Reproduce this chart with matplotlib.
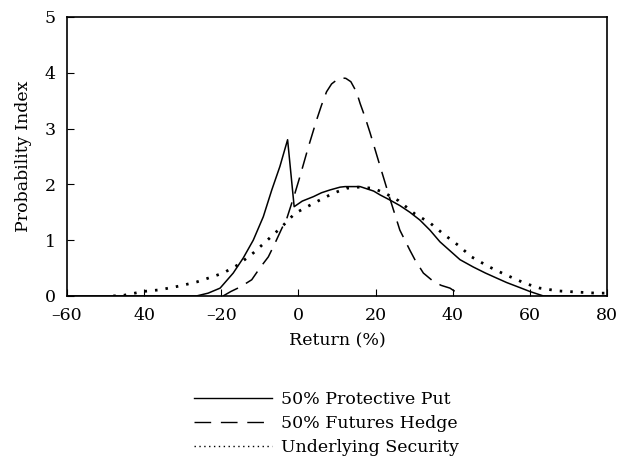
import numpy as np
import matplotlib
matplotlib.use('Agg')
import matplotlib.pyplot as plt
from matplotlib.lines import Line2D

plt.rcParams['font.family'] = ['DejaVu Serif']

# 50% protective put (solid)
put_x = [-60, -26.4, -23.4, -20.3, -16.9, -14.3, -11.7, -9.1, -6.9, -4.8, -2.8,
         -1.1, 1.0, 3.9, 6.0, 8.2, 10.8, 12.1, 16.0, 19.5, 21.2, 23.7, 26.3, 28.9, 31.5, 34.1,
         36.7, 39.3, 41.9, 45.3, 48.5, 51.4, 54.0, 57.4, 60.0, 63.5, 80]
put_y = [0, 0, 0.05, 0.14, 0.41, 0.68, 1.00, 1.42, 1.90, 2.32, 2.80,
         1.60, 1.70, 1.78, 1.85, 1.90, 1.95, 1.96, 1.96, 1.88, 1.81, 1.72, 1.62, 1.50, 1.36, 1.18,
         0.97, 0.81, 0.65, 0.52, 0.41, 0.32, 0.24, 0.15, 0.08, 0, 0]

# 50% futures hedge (dashed)
fut_x = [-19.5, -17.5, -15.1, -12.1, -10.0, -7.8, -6.1, -4.3, -3.0, -0.9, 0.4, 2.5, 4.7,
         6.0, 7.3, 8.6, 9.9, 11.0, 12.3, 13.6, 15.1, 16.0, 17.3, 18.6, 21.2, 23.7,
         26.3, 28.9, 30.2, 32.4, 35.0, 37.0, 39.3, 41.9]
fut_y = [0, 0.08, 0.16, 0.29, 0.50, 0.70, 0.94, 1.21, 1.39, 1.84, 2.14, 2.65, 3.15,
         3.42, 3.66, 3.80, 3.87, 3.91, 3.90, 3.84, 3.65, 3.45, 3.20, 2.92, 2.32, 1.75,
         1.18, 0.82, 0.65, 0.41, 0.26, 0.19, 0.14, 0.02]

# underlying security (dotted)
und_x = [-48, -45.4, -40.2, -35.9, -30.7, -26.4, -24.2, -19.5, -15.6, -11.7, -8.2, -4.3, -0.9,
         3.9, 9.0, 12.5, 15.5, 19.4, 22.5, 25.9, 30.2, 34.1, 37.6, 41.4, 44.9,
         49.2, 52.8, 56.0, 59.0, 62.6, 67.4, 72.1, 77.3, 80]
und_y = [0, 0.01, 0.08, 0.11, 0.18, 0.25, 0.30, 0.41, 0.56, 0.77, 0.99, 1.24, 1.48,
         1.66, 1.84, 1.93, 1.95, 1.93, 1.84, 1.71, 1.47, 1.31, 1.11, 0.91, 0.70,
         0.53, 0.41, 0.31, 0.22, 0.14, 0.09, 0.07, 0.05, 0.05]

xticks = [-60, -40, -20, 0, 20, 40, 60, 80]
xtick_labels = ['\u201360', '40', '\u201320', '0', '20', '40', '60', '80']
yticks = [0, 1, 2, 3, 4, 5]

fig = plt.figure(figsize=(6.2, 4.72), dpi=100)
ax = fig.add_axes([0.108, 0.373, 0.871, 0.591])

ax.plot(put_x, put_y, color='black', lw=1.1, ls='-')
ax.plot(fut_x, fut_y, color='black', lw=1.1, ls=(0, (11, 6)))
ax.plot(und_x, und_y, color='black', lw=2.0, ls=(0, (0.9, 2.9)))

ax.set_xlim(-60, 80)
ax.set_ylim(0, 5)
ax.set_xticks(xticks)
ax.set_xticklabels(xtick_labels)
ax.set_yticks(yticks)
ax.tick_params(direction='in', length=5, labelsize=12.5, pad=8)
for s in ax.spines.values():
    s.set_linewidth(1.2)
ax.set_xlabel('Return (%)', fontsize=12.5, labelpad=6)
ax.set_ylabel('Probability Index', fontsize=12.5, labelpad=9)

handles = [
    Line2D([], [], color='black', lw=1.0, ls='-'),
    Line2D([], [], color='black', lw=1.0, ls=(0, (12, 7))),
    Line2D([], [], color='black', lw=1.0, ls=(0, (1, 2.5))),
]
labels = ['50% Protective Put', '50% Futures Hedge', 'Underlying Security']
fig.legend(handles, labels, loc='upper center', bbox_to_anchor=(0.527, 0.205),
           frameon=False, fontsize=12.5, handlelength=4.5, handletextpad=0.5,
           labelspacing=0.4)

plt.savefig('out.png', dpi=100)
